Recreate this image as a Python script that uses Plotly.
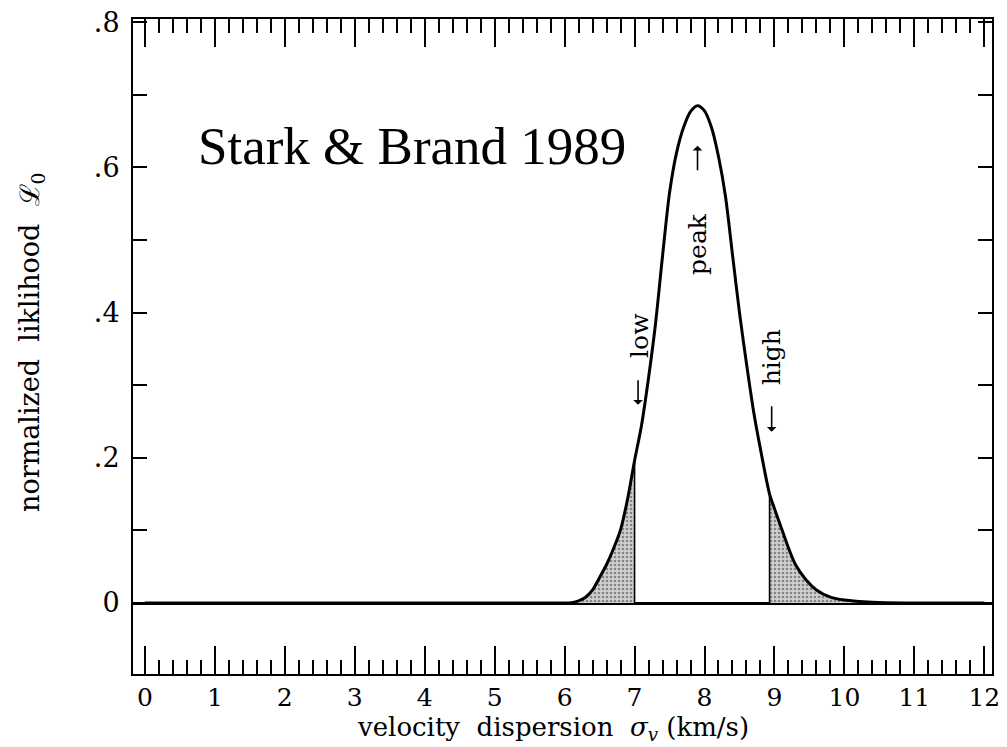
import plotly.graph_objects as go

# Normalized likelihood of the velocity dispersion (Stark & Brand 1989)
sigma_kms = [0.0, 5.8, 6.0, 6.1, 6.2, 6.3, 6.4, 6.5, 6.6, 6.7, 6.8, 6.9, 7.0,
             7.1, 7.2, 7.3, 7.4, 7.5, 7.6, 7.7, 7.8, 7.9, 8.0, 8.1, 8.2, 8.3,
             8.4, 8.5, 8.6, 8.7, 8.8, 8.93, 9.0, 9.1, 9.2, 9.3, 9.45, 9.6, 9.8,
             10.0, 10.4, 11.0, 12.0]
likelihood = [0.0, 0.0, 0.0, 0.0005, 0.003, 0.008, 0.018, 0.035, 0.053, 0.075,
              0.101, 0.143, 0.196, 0.245, 0.310, 0.385, 0.478, 0.565, 0.620,
              0.655, 0.677, 0.685, 0.678, 0.655, 0.615, 0.560, 0.480, 0.400,
              0.330, 0.265, 0.212, 0.150, 0.130, 0.103, 0.076, 0.053, 0.032,
              0.018, 0.008, 0.004, 0.001, 0.0, 0.0]

low_cut = 7.0     # lower limit
high_cut = 8.93   # upper limit

x_ticks = list(range(0, 13))
y_ticks = [0.0, 0.1, 0.2, 0.3, 0.4, 0.5, 0.6, 0.7, 0.8]
y_labels = ["0", "", ".2", "", ".4", "", ".6", "", ".8"]

SERIF = "DejaVu Serif"

low_x = [s for s in sigma_kms if 5.8 <= s <= low_cut]
low_y = [l for s, l in zip(sigma_kms, likelihood) if 5.8 <= s <= low_cut]
high_x = [s for s in sigma_kms if high_cut <= s <= 11.0]
high_y = [l for s, l in zip(sigma_kms, likelihood) if high_cut <= s <= 11.0]
low_edge = likelihood[sigma_kms.index(low_cut)]
high_edge = likelihood[sigma_kms.index(high_cut)]

stipple = dict(shape=".", size=4, solidity=0.35, fgcolor="#3a3a3a", bgcolor="#cfcfcf")

fig = go.Figure()
# stippled tails
fig.add_trace(go.Scatter(x=low_x, y=low_y, mode="lines", fill="tozeroy",
                         line=dict(width=0, color="black", shape="spline"),
                         fillpattern=stipple, hoverinfo="skip"))
fig.add_trace(go.Scatter(x=high_x, y=high_y, mode="lines", fill="tozeroy",
                         line=dict(width=0, color="black", shape="spline"),
                         fillpattern=stipple, hoverinfo="skip"))
# edges of the shaded regions
fig.add_trace(go.Scatter(x=[low_cut, low_cut], y=[0, low_edge], mode="lines",
                         line=dict(width=1.6, color="black")))
fig.add_trace(go.Scatter(x=[high_cut, high_cut], y=[0, high_edge], mode="lines",
                         line=dict(width=1.6, color="black")))
# likelihood curve
fig.add_trace(go.Scatter(x=sigma_kms, y=likelihood, mode="lines",
                         line=dict(width=3, color="black", shape="spline",
                                   smoothing=0.8)))

label_font = dict(family=SERIF, size=25, color="black")
arrow_style = dict(xref="x", yref="y", text="", showarrow=True, arrowhead=1,
                   arrowsize=1, arrowwidth=1.6, arrowcolor="black")

annotations = [
    dict(text="Stark &amp; Brand 1989", x=0.73, y=0.630, xref="x", yref="y",
         xanchor="left", yanchor="middle", showarrow=False,
         font=dict(family="Liberation Serif", size=53, color="black")),
    dict(text="peak", x=7.90, y=0.494, xref="x", yref="y", textangle=-90,
         showarrow=False, font=label_font),
    dict(text="low", x=7.06, y=0.369, xref="x", yref="y", textangle=-90,
         showarrow=False, font=label_font),
    dict(text="high", x=8.97, y=0.339, xref="x", yref="y", textangle=-90,
         showarrow=False, font=label_font),
    dict(x=7.90, y=0.630, ax=0, ay=26, **arrow_style),
    dict(x=7.05, y=0.273, ax=0, ay=-26, **arrow_style),
    dict(x=8.96, y=0.236, ax=0, ay=-27, **arrow_style),
    # axis titles
    dict(text="velocity  dispersion  <i>σ</i><sub><i>v</i></sub> (km/s)",
         x=0.489, y=-0.1115, xref="paper", yref="paper", showarrow=False,
         xanchor="center", yanchor="bottom",
         font=dict(family=SERIF, size=26, color="black")),
    dict(text="normalized  liklihood  ℒ<sub>0</sub>",
         x=-0.1176, y=0.507, xref="paper", yref="paper", showarrow=False,
         textangle=-90, xanchor="center", yanchor="middle",
         font=dict(family=SERIF, size=27, color="black")),
]

fig.update_layout(
    width=1007, height=747,
    margin=dict(l=133, r=7, t=15, b=73),
    paper_bgcolor="white", plot_bgcolor="white",
    showlegend=False,
    annotations=annotations,
    font=dict(family=SERIF, size=26, color="black"),
)
fig.update_xaxes(
    range=[-0.17, 12.11], showgrid=False, zeroline=False,
    showline=True, linecolor="black", linewidth=2, mirror="ticks",
    tickvals=x_ticks, ticks="inside", ticklen=28, tickwidth=2, tickcolor="black",
    ticklabelstandoff=0, ticklabeloverflow="allow",
    minor=dict(dtick=0.2, ticks="inside", ticklen=14, tickwidth=2,
               tickcolor="black", showgrid=False),
    tickfont=dict(family=SERIF, size=25, color="black"),
)
fig.update_yaxes(
    range=[-0.0978, 0.8045], showgrid=False,
    zeroline=True, zerolinecolor="black", zerolinewidth=2.5,
    showline=True, linecolor="black", linewidth=2, mirror="ticks",
    tickvals=y_ticks, ticktext=y_labels, ticks="inside", ticklen=14,
    tickwidth=2, tickcolor="black", ticklabelstandoff=6,
    tickfont=dict(family=SERIF, size=27, color="black"),
)

fig.write_html("out.html")
